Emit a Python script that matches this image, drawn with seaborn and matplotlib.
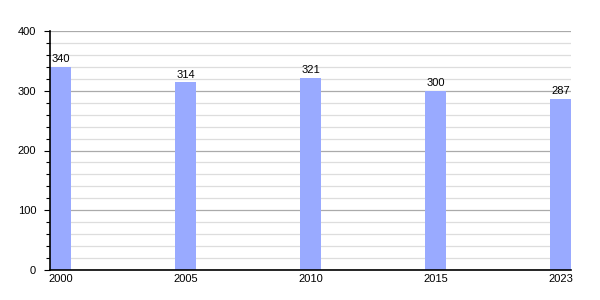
import matplotlib
matplotlib.use("Agg")
import matplotlib.pyplot as plt
import seaborn as sns
import pandas as pd
from matplotlib.ticker import MultipleLocator

years = ["2000", "2005", "2010", "2015", "2023"]
values = [340, 314, 321, 300, 287]

sns.set_theme(style="white")
plt.rcParams['font.family'] = ['Liberation Sans', 'DejaVu Sans']
plt.rcParams['text.color'] = 'black'
plt.rcParams['xtick.color'] = 'black'
plt.rcParams['ytick.color'] = 'black'

df = pd.DataFrame({"year": years, "value": values})

fig = plt.figure(figsize=(6, 3), dpi=100)
ax = fig.add_axes([50/600, 30/300, 521/600, 239/300])

sns.barplot(data=df, x="year", y="value", color="#99aaff", width=0.168,
            saturation=1, linewidth=0, ax=ax, zorder=3)

ax.set_xlim(-0.084, 4.084)
ax.set_ylim(0, 400)
ax.yaxis.set_major_locator(MultipleLocator(100))
ax.yaxis.set_minor_locator(MultipleLocator(20))
ax.grid(which="major", axis="y", color="#aaaaaa", linewidth=0.9, zorder=0)
ax.grid(which="minor", axis="y", color="#dddddd", linewidth=0.9, zorder=0)
ax.set_axisbelow(True)

for s in ["top", "right"]:
    ax.spines[s].set_visible(False)
for s in ["left", "bottom"]:
    ax.spines[s].set_color("black")
    ax.spines[s].set_linewidth(1.2)
    ax.spines[s].set_zorder(4)

ax.tick_params(axis="y", which="major", direction="out", length=4, width=0.8,
               color="black", labelsize=8, pad=6, left=True, labelcolor="black")
ax.tick_params(axis="y", which="minor", direction="out", length=3, width=0.8,
               color="black", left=True)
ax.tick_params(axis="x", length=0, labelsize=8, pad=3, labelcolor="black")
ax.set_xlabel("")
ax.set_ylabel("")

for c in ax.containers:
    ax.bar_label(c, labels=[str(v) for v in values], fontsize=8, padding=2,
                 color="black")

fig.savefig("out.png", dpi=100)
